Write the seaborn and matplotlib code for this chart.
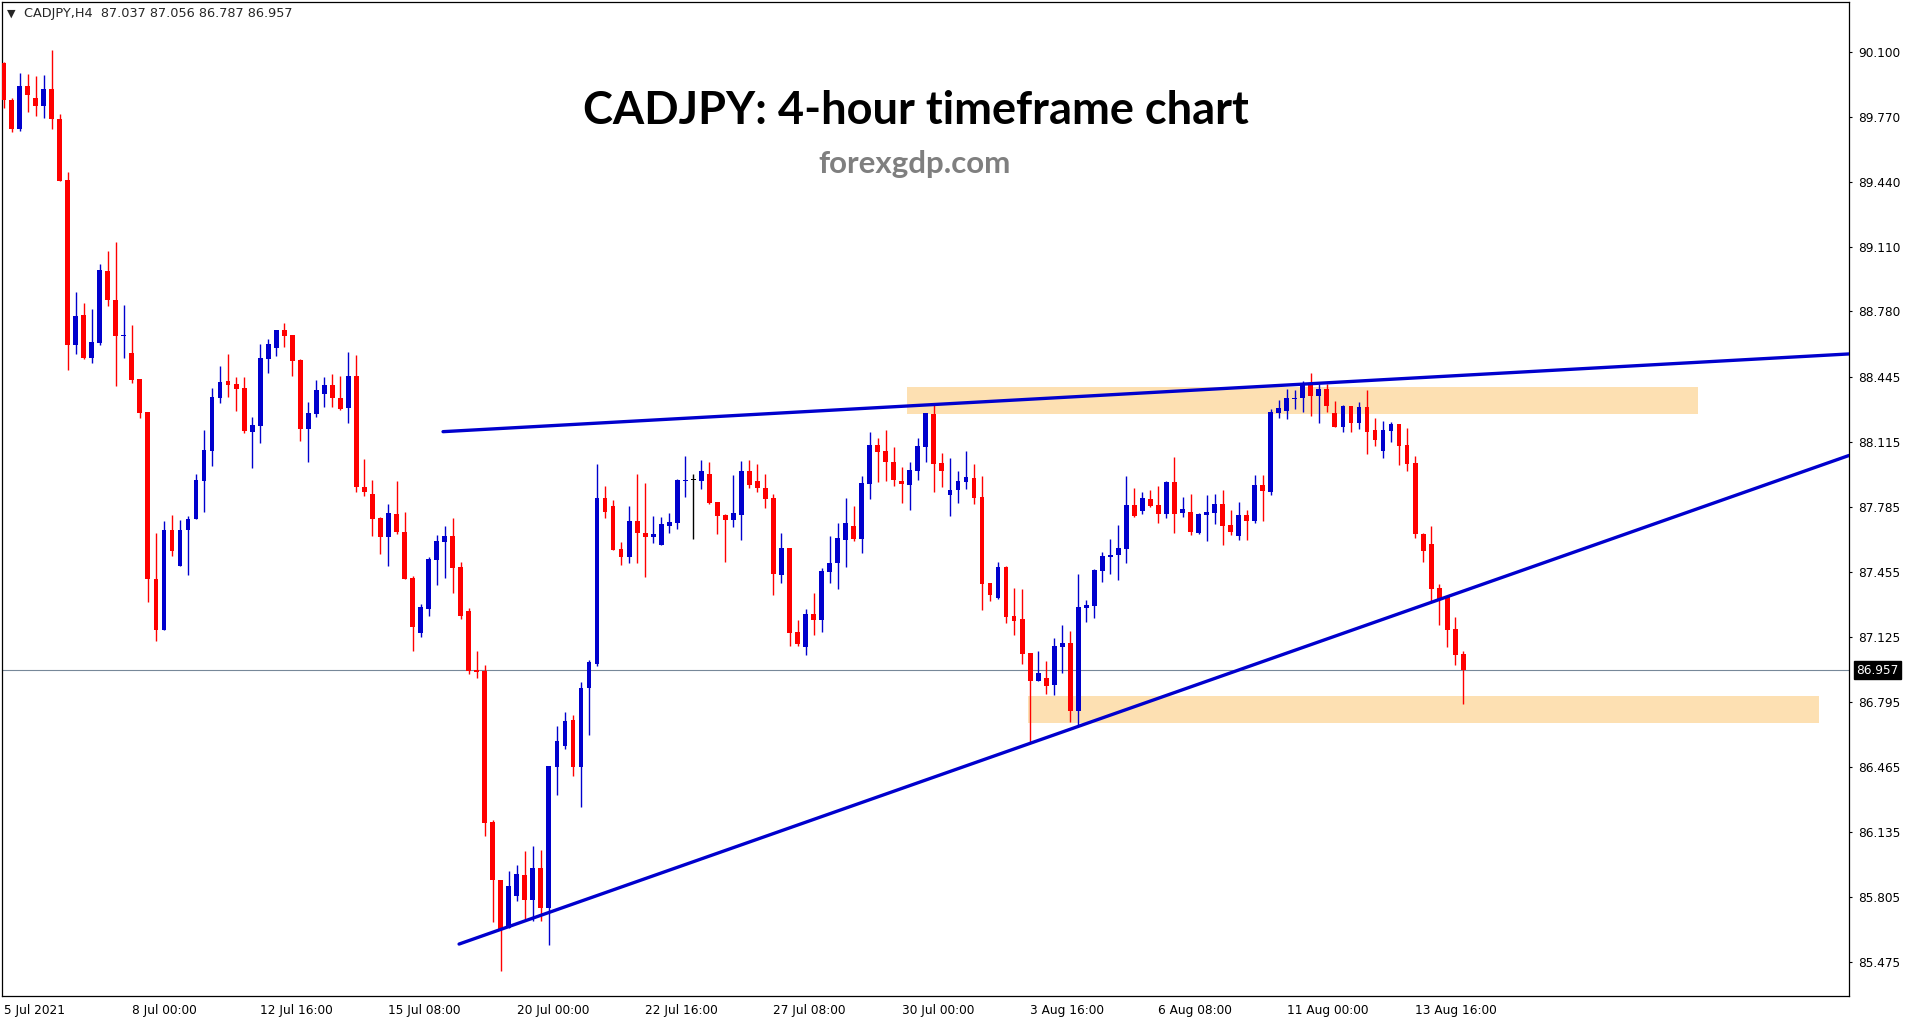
import numpy as np
import pandas as pd
import matplotlib
matplotlib.use('Agg')
import matplotlib.pyplot as plt
import seaborn as sns

header = 'CADJPY,H4  87.037 87.056 86.787 86.957'
title = 'CADJPY: 4-hour timeframe chart'
site = 'forexgdp.com'

# H4 candles, 5 Jul 2021 08:00 .. 16 Aug 2021 16:00 (weekends skipped)
opens = [90.044, 89.853, 89.708, 89.926, 89.864, 89.826, 89.909, 89.760, 89.446, 88.608,
         88.761, 88.543, 88.620, 88.985, 88.838, 88.657, 88.568, 88.435, 88.267, 87.422,
         87.159, 87.667, 87.487, 87.669, 87.725, 87.918, 88.072, 88.340, 88.425, 88.410,
         88.390, 88.168, 88.199, 88.539, 88.595, 88.684, 88.659, 88.533, 88.182, 88.259,
         88.362, 88.407, 88.339, 88.287, 88.452, 87.890, 87.851, 87.731, 87.636, 87.751,
         87.658, 87.424, 87.145, 87.268, 87.518, 87.608, 87.638, 87.481, 87.257, 86.957,
         86.952, 86.186, 85.891, 85.646, 85.807, 85.916, 85.789, 85.952, 85.748, 86.465,
         86.569, 86.703, 86.465, 86.866, 86.987, 87.831, 87.792, 87.572, 87.531, 87.715,
         87.654, 87.635, 87.595, 87.691, 87.706, 87.920, 87.923, 87.920, 87.954, 87.812,
         87.745, 87.722, 87.747, 87.969, 87.918, 87.883, 87.832, 87.442, 87.578, 87.151,
         87.076, 87.242, 87.212, 87.456, 87.502, 87.620, 87.691, 87.623, 87.905, 88.101,
         88.071, 88.015, 87.918, 87.900, 87.971, 88.091, 88.260, 88.010, 87.849, 87.874,
         87.915, 87.933, 87.839, 87.400, 87.324, 87.481, 87.232, 87.217, 87.042, 86.904,
         86.917, 86.883, 87.076, 87.095, 86.751, 87.274, 87.283, 87.463, 87.534, 87.542,
         87.574, 87.796, 87.767, 87.827, 87.796, 87.752, 87.913, 87.757, 87.761, 87.656,
         87.747, 87.757, 87.801, 87.695, 87.640, 87.745, 87.717, 87.898, 87.864, 88.265,
         88.276, 88.335, 88.342, 88.411, 88.352, 88.384, 88.264, 88.194, 88.299, 88.215,
         88.294, 88.177, 88.072, 88.174, 88.208, 88.101, 88.010, 87.651, 87.598, 87.374,
         87.329, 87.166, 87.037]
highs = [90.048, 89.864, 89.992, 89.986, 89.976, 89.982, 90.111, 89.781, 89.488, 88.877,
         88.823, 88.790, 89.021, 89.089, 89.133, 88.811, 88.711, 88.435, 88.267, 87.653,
         87.713, 87.748, 87.719, 87.740, 87.952, 88.176, 88.390, 88.502, 88.562, 88.446,
         88.446, 88.242, 88.614, 88.639, 88.684, 88.722, 88.659, 88.537, 88.319, 88.431,
         88.448, 88.464, 88.452, 88.575, 88.561, 88.030, 87.924, 87.735, 87.799, 87.919,
         87.760, 87.438, 87.291, 87.531, 87.645, 87.690, 87.731, 87.506, 87.272, 87.055,
         86.982, 86.195, 85.891, 85.936, 85.966, 86.038, 86.063, 86.043, 86.469, 86.674,
         86.744, 86.728, 86.896, 87.009, 88.005, 87.892, 87.822, 87.608, 87.792, 87.953,
         87.908, 87.740, 87.734, 87.756, 87.930, 88.045, 87.954, 88.025, 88.015, 87.812,
         87.751, 87.949, 88.020, 88.025, 88.005, 87.954, 87.850, 87.654, 87.578, 87.212,
         87.269, 87.349, 87.476, 87.639, 87.705, 87.832, 87.793, 87.944, 88.167, 88.137,
         88.177, 88.089, 87.989, 88.015, 88.137, 88.265, 88.306, 88.059, 88.035, 87.967,
         88.072, 88.005, 87.944, 87.400, 87.507, 87.488, 87.374, 87.369, 87.042, 87.054,
         87.004, 87.120, 87.187, 87.156, 87.446, 87.313, 87.471, 87.557, 87.623, 87.696,
         87.944, 87.883, 87.862, 87.872, 87.893, 87.918, 88.040, 87.837, 87.852, 87.756,
         87.847, 87.852, 87.872, 87.771, 87.811, 87.771, 87.949, 87.949, 88.286, 88.330,
         88.384, 88.381, 88.425, 88.467, 88.411, 88.411, 88.325, 88.304, 88.299, 88.320,
         88.381, 88.238, 88.223, 88.218, 88.208, 88.188, 88.045, 87.656, 87.691, 87.395,
         87.334, 87.227, 87.056]
lows = [89.816, 89.691, 89.695, 89.795, 89.774, 89.764, 89.706, 89.442, 88.483, 88.564,
        88.539, 88.518, 88.610, 88.809, 88.402, 88.543, 88.415, 88.238, 87.304, 87.105,
        87.159, 87.536, 87.487, 87.441, 87.725, 87.761, 87.995, 88.315, 88.346, 88.275,
        88.161, 87.985, 88.111, 88.468, 88.554, 88.599, 88.452, 88.122, 88.016, 88.244,
        88.294, 88.294, 88.280, 88.214, 87.860, 87.844, 87.640, 87.545, 87.488, 87.651,
        87.422, 87.055, 87.127, 87.232, 87.390, 87.424, 87.350, 87.216, 86.937, 86.916,
        86.115, 85.677, 85.426, 85.646, 85.784, 85.680, 85.680, 85.680, 85.559, 86.322,
        86.555, 86.419, 86.260, 86.628, 86.978, 87.731, 87.567, 87.493, 87.500, 87.504,
        87.432, 87.605, 87.595, 87.656, 87.676, 87.839, 87.625, 87.879, 87.801, 87.651,
        87.508, 87.686, 87.618, 87.884, 87.864, 87.781, 87.339, 87.400, 87.081, 87.081,
        87.036, 87.136, 87.151, 87.400, 87.369, 87.483, 87.613, 87.554, 87.828, 87.915,
        87.920, 87.893, 87.808, 87.771, 87.923, 88.017, 87.862, 87.889, 87.742, 87.808,
        87.876, 87.803, 87.264, 87.310, 87.319, 87.198, 87.136, 86.990, 86.585, 86.904,
        86.837, 86.832, 86.941, 86.695, 86.673, 87.203, 87.224, 87.407, 87.447, 87.417,
        87.503, 87.737, 87.752, 87.786, 87.706, 87.732, 87.656, 87.737, 87.645, 87.651,
        87.615, 87.701, 87.595, 87.645, 87.620, 87.620, 87.706, 87.717, 87.849, 88.240,
        88.235, 88.286, 88.271, 88.250, 88.215, 88.271, 88.194, 88.169, 88.169, 88.184,
        88.057, 88.098, 88.037, 88.118, 88.001, 87.971, 87.630, 87.508, 87.310, 87.188,
        87.076, 86.985, 86.787]
closes = [89.857, 89.708, 89.926, 89.878, 89.826, 89.909, 89.760, 89.442, 88.608, 88.755,
          88.543, 88.624, 88.990, 88.836, 88.657, 88.662, 88.433, 88.265, 87.420, 87.159,
          87.667, 87.563, 87.671, 87.727, 87.922, 88.074, 88.344, 88.421, 88.406, 88.385,
          88.172, 88.201, 88.541, 88.614, 88.684, 88.655, 88.529, 88.182, 88.263, 88.379,
          88.407, 88.339, 88.284, 88.452, 87.890, 87.860, 87.726, 87.636, 87.754, 87.658,
          87.422, 87.177, 87.277, 87.522, 87.613, 87.638, 87.477, 87.232, 86.955, 86.950,
          86.181, 85.888, 85.639, 85.859, 85.920, 85.789, 85.952, 85.748, 86.469, 86.596,
          86.698, 86.465, 86.866, 86.998, 87.831, 87.760, 87.567, 87.531, 87.715, 87.654,
          87.635, 87.649, 87.700, 87.710, 87.923, 87.925, 87.923, 87.969, 87.805, 87.742,
          87.722, 87.754, 87.969, 87.898, 87.883, 87.827, 87.447, 87.578, 87.147, 87.090,
          87.242, 87.212, 87.461, 87.502, 87.629, 87.705, 87.623, 87.908, 88.101, 88.067,
          88.017, 87.925, 87.905, 87.972, 88.096, 88.265, 88.006, 87.971, 87.872, 87.918,
          87.939, 87.834, 87.396, 87.341, 87.481, 87.229, 87.208, 87.041, 86.904, 86.941,
          86.878, 87.080, 87.095, 86.751, 87.278, 87.288, 87.466, 87.537, 87.544, 87.578,
          87.796, 87.742, 87.832, 87.791, 87.752, 87.913, 87.752, 87.776, 87.661, 87.751,
          87.761, 87.801, 87.691, 87.661, 87.745, 87.717, 87.898, 87.869, 88.269, 88.289,
          88.338, 88.340, 88.411, 88.352, 88.384, 88.301, 88.194, 88.299, 88.215, 88.294,
          88.169, 88.128, 88.177, 88.208, 88.098, 88.006, 87.651, 87.564, 87.371, 87.319,
          87.163, 87.036, 86.957]

bid = 86.957

x_tick_pos = [0, 16, 32, 48, 64, 80, 96, 112, 128, 144, 160, 176]
x_tick_labels = ['5 Jul 2021', '8 Jul 00:00', '12 Jul 16:00', '15 Jul 08:00',
                 '20 Jul 00:00', '22 Jul 16:00', '27 Jul 08:00', '30 Jul 00:00',
                 '3 Aug 16:00', '6 Aug 08:00', '11 Aug 00:00', '13 Aug 16:00']
y_tick_labels = ['90.100', '89.770', '89.440', '89.110', '88.780', '88.445', '88.115',
                 '87.785', '87.455', '87.125', '86.795', '86.465', '86.135', '85.805',
                 '85.475']

# trend lines (bar index, price)
upper_x = [54.8, 230.1]
upper_y = [88.169, 88.564]
lower_x = [56.8, 230.1]
lower_y = [85.565, 88.048]

# supply / demand zones
zone_x0 = [112.7, 127.7]
zone_x1 = [211.3, 226.4]
zone_bottom = [88.260, 86.690]
zone_top = [88.397, 86.827]

df = pd.DataFrame({'open': opens, 'high': highs, 'low': lows, 'close': closes})
df['bar'] = np.arange(len(df))
df['color'] = np.where(df['close'] > df['open'], '#0000cd',
                       np.where(df['close'] < df['open'], '#ff0000', '#000000'))
df['body_lo'] = df[['open', 'close']].min(axis=1)
df['body_h'] = (df['close'] - df['open']).abs().clip(lower=0.005)

sns.set_style('white')
plt.rcParams['font.family'] = ['DejaVu Sans']

W, H = 1913, 1023
fig = plt.figure(figsize=(W / 100, H / 100), dpi=100)
ax = fig.add_axes([2 / W, 27 / H, 1847 / W, 994 / H])

for x0, x1, lo, hi in zip(zone_x0, zone_x1, zone_bottom, zone_top):
    ax.fill_between([x0, x1], lo, hi, color='#fde0b2', lw=0, zorder=1)

ax.axhline(bid, color='#778899', lw=0.8, zorder=1.5)

ax.vlines(df['bar'], df['low'], df['high'], colors=df['color'], lw=1.0, zorder=2)
ax.bar(df['bar'], df['body_h'], bottom=df['body_lo'], width=0.6,
       color=df['color'], lw=0, zorder=3)

sns.lineplot(x=upper_x, y=upper_y, ax=ax, color='#0000cd', lw=2.4, zorder=4)
sns.lineplot(x=lower_x, y=lower_y, ax=ax, color='#0000cd', lw=2.4, zorder=4)

ax.set_xlim(-0.19, 230.1)
ax.set_ylim(85.301, 90.3526)

for s in ax.spines.values():
    s.set_visible(True)
    s.set_color('black')
    s.set_linewidth(0.9)

ax.yaxis.tick_right()
ax.set_yticks([float(v) for v in y_tick_labels])
ax.set_yticklabels(y_tick_labels)
ax.set_xticks(x_tick_pos)
ax.set_xticklabels(x_tick_labels)
for lab in ax.get_xticklabels():
    lab.set_horizontalalignment('left')
ax.tick_params(axis='both', direction='out', length=2.5, width=0.8,
               labelsize=8.7, colors='black')
ax.tick_params(axis='y', pad=4)
ax.tick_params(axis='x', pad=3)
ax.set_xlabel('')
ax.set_ylabel('')

ax.annotate(f'{bid:.3f}', xy=(1, bid), xycoords=('axes fraction', 'data'),
            xytext=(5, 0), textcoords='offset points', ha='left', va='center',
            color='white', fontsize=8.7,
            bbox=dict(boxstyle='square,pad=0.2', fc='black', ec='black'))

fig.text(11 / W, 1 - 13.5 / H, '\u25BC', fontsize=8, ha='center', va='center')
fig.text(24 / W, 1 - 13.5 / H, header, fontsize=9.3, ha='left', va='center')

fig.text(916 / W, 1 - 111 / H, title, fontsize=32.5, fontweight='bold',
         family='Lato', ha='center', va='center', color='black')
fig.text(915 / W, 1 - 163.5 / H, site, fontsize=22.5, fontweight='bold',
         family='Lato', ha='center', va='center', color='#7f7f7f')

fig.savefig('out.png', dpi=100)
